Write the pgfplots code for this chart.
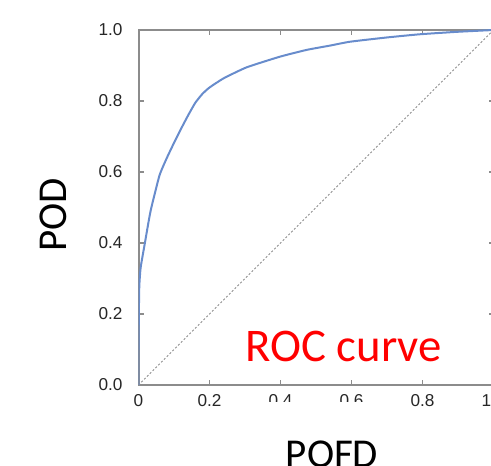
\documentclass[border=0pt]{standalone}
\usepackage{fontspec}
\usepackage{pgfplots}
\pgfplotsset{compat=1.18}
\setmainfont{Carlito}
\newfontfamily\tickfont{Liberation Sans}
\definecolor{roc}{RGB}{104,140,204}
\definecolor{frame}{RGB}{140,140,140}
\begin{document}
\begin{tikzpicture}
	\begin{axis}[
		scale only axis,
		width=177.5pt, height=177.5pt,
		xmin=0, xmax=1, ymin=0, ymax=1,
		xtick={0,0.2,...,1}, ytick={0,0.2,...,1},
		xticklabels={0,0.2,0.4,0.6,0.8,1.0},
		yticklabel style={
			/pgf/number format/fixed,
			/pgf/number format/fixed zerofill,
			/pgf/number format/precision=1,
			/pgf/number format/assume math mode=true,
			xshift=-4.5pt},
		tick label style={font=\tickfont\fontsize{8.6}{10}\selectfont, text=black!85},
		xticklabel style={yshift=-1pt},
		tick align=inside,
		major tick length=2.5pt,
		tick style={frame, line width=0.6pt},
		axis line style={frame, line width=1pt},
		]
		% chance line
		\addplot[frame, line width=0.5pt, dash pattern=on 1pt off 1pt] coordinates {(0,0) (1,1)};
		% ROC curve
		\addplot[roc, line width=1pt, smooth, tension=0.3] coordinates {
			(0,0) (0,0.1) (0.002,0.27) (0.006,0.33) (0.018,0.40) (0.034,0.49)
			(0.059,0.59) (0.08,0.64) (0.10,0.682) (0.12,0.722) (0.14,0.76)
			(0.16,0.795) (0.18,0.82) (0.20,0.838) (0.24,0.864) (0.305,0.895)
			(0.399,0.925) (0.474,0.944) (0.539,0.956) (0.596,0.967) (0.7,0.979)
			(0.793,0.988) (0.9,0.995) (1,1)
		};
		\coordinate (ll) at (rel axis cs:0,0);
	\end{axis}
	% white box of the x label, covering the lower part of two tick labels
	\fill[white] ([shift={(50.75pt,-8.5pt)}]ll) rectangle ([shift={(128.25pt,-45pt)}]ll);
	\node[anchor=base, inner sep=0pt, font=\fontsize{20.5}{24}\selectfont] at ([shift={(96.75pt,-41.35pt)}]ll) {POFD};
	\node[rotate=90, inner sep=0pt, font=\fontsize{20.5}{24}\selectfont] at ([shift={(-42.5pt,85pt)}]ll) {POD};
	\node[anchor=base west, inner sep=0pt, text=red, font=\fontsize{23.4}{28}\selectfont] at ([shift={(53.25pt,11.65pt)}]ll) {ROC curve};
	\pgfresetboundingbox
	\path ([shift={(-69.25pt,-40pt)}]ll) rectangle ([shift={(176.25pt,192.5pt)}]ll);
\end{tikzpicture}
\end{document}
